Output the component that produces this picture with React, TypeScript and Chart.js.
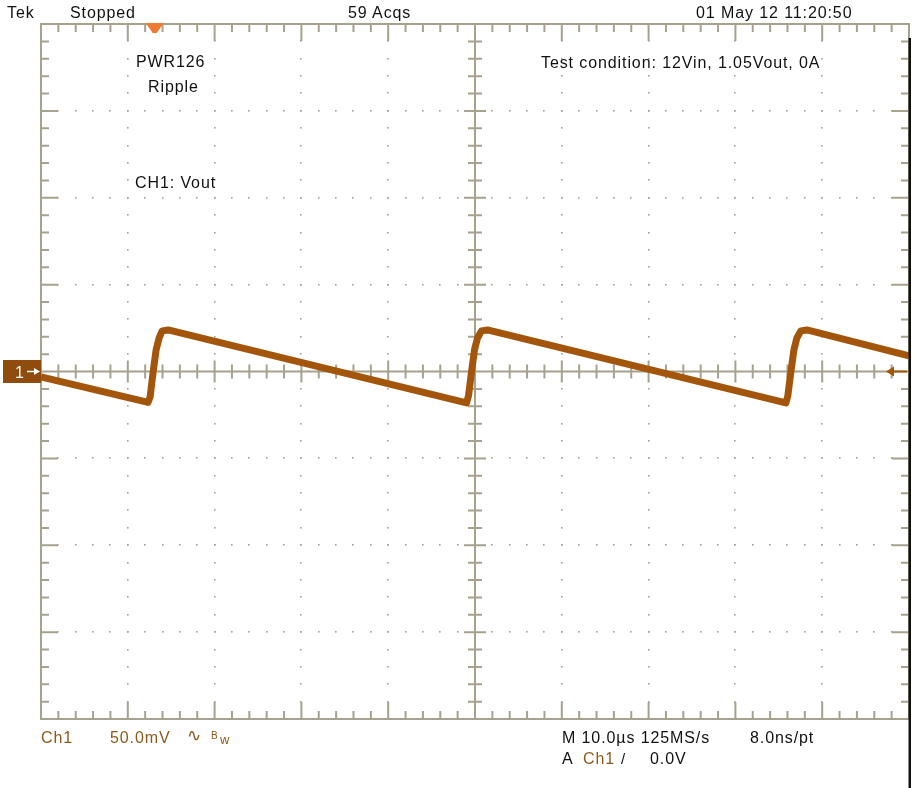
import React, { useEffect, useRef } from 'react';
import { Chart, registerables } from 'chart.js';

Chart.register(...registerables);

// ---- data (time in µs across the 10-division screen, Ch1 in mV) ----
const timeUs = [0, 12.34, 12.57, 12.92, 13.26, 13.61, 13.96, 14.65, 49.02, 49.25, 49.6, 49.94, 50.29, 50.75, 51.44, 85.81, 86.04, 86.39, 86.74, 87.08, 87.54, 88.24, 100];
const ch1mV = [-3.1, -17.8, -14.6, -0.2, 12.4, 19.3, 23.4, 23.9, -18.1, -14.0, -0.2, 12.4, 19.3, 23.4, 23.9, -18.1, -14.0, -0.2, 12.4, 19.3, 23.4, 23.9, 9.0];

const xRange = [0, 100];
const xDivision = 10; // µs per division
const yRange = [-200, 200];
const yDivision = 50; // mV per division
const minorPerDivision = 5;
const triggerTimeUs = 13.1;
const triggerLevelMv = 0;
const ch1OffsetMv = 0;

const headerTexts = ['Tek', 'Stopped', '59 Acqs', '01 May 12 11:20:50'];
const noteTexts = ['PWR126', 'Ripple', 'CH1: Vout', 'Test condition: 12Vin, 1.05Vout, 0A'];

const TRACE = '#a3550b';
const GRID = '#a6a28d';
const BROWN_TEXT = '#8c5a1c';

const graticule = {
  id: 'graticule',
  beforeDatasetsDraw(chart: any) {
    const { ctx, chartArea: a, scales } = chart;
    const xs = scales.x;
    const ys = scales.y;
    const xMinor = xDivision / minorPerDivision;
    const yMinor = yDivision / minorPerDivision;
    const nx = Math.round((xRange[1] - xRange[0]) / xMinor);
    const ny = Math.round((yRange[1] - yRange[0]) / yMinor);
    const xMid = (xRange[0] + xRange[1]) / 2;
    const yMid = (yRange[0] + yRange[1]) / 2;
    ctx.save();
    ctx.fillStyle = GRID;
    // dotted major lines
    for (let j = 1; j < ny; j++) {
      const v = yRange[0] + j * yMinor;
      if (j % minorPerDivision !== 0 || v === yMid) continue;
      const py = ys.getPixelForValue(v);
      for (let i = 1; i < nx; i++) {
        const px = xs.getPixelForValue(xRange[0] + i * xMinor);
        ctx.fillRect(Math.round(px) - 1, Math.round(py) - 1, 1.6, 1.6);
      }
    }
    for (let i = 1; i < nx; i++) {
      const t = xRange[0] + i * xMinor;
      if (i % minorPerDivision !== 0 || t === xMid) continue;
      const px = xs.getPixelForValue(t);
      for (let j = 1; j < ny; j++) {
        const py = ys.getPixelForValue(yRange[0] + j * yMinor);
        ctx.fillRect(Math.round(px) - 1, Math.round(py) - 1, 1.6, 1.6);
      }
    }
    ctx.strokeStyle = GRID;
    ctx.lineWidth = 2;
    ctx.strokeRect(a.left, a.top, a.right - a.left, a.bottom - a.top);
    const cx = xs.getPixelForValue(xMid);
    const cy = ys.getPixelForValue(yMid);
    ctx.beginPath();
    ctx.moveTo(cx, a.top); ctx.lineTo(cx, a.bottom);
    ctx.moveTo(a.left, cy); ctx.lineTo(a.right, cy);
    // ticks along x
    for (let i = 1; i < nx; i++) {
      const px = xs.getPixelForValue(xRange[0] + i * xMinor);
      const major = i % minorPerDivision === 0;
      const edge = major ? 17 : 8;
      const mid = major ? 11 : 7;
      ctx.moveTo(px, a.top); ctx.lineTo(px, a.top + edge);
      ctx.moveTo(px, a.bottom); ctx.lineTo(px, a.bottom - edge);
      ctx.moveTo(px, cy - mid); ctx.lineTo(px, cy + mid);
    }
    for (let j = 1; j < ny; j++) {
      const py = ys.getPixelForValue(yRange[0] + j * yMinor);
      const major = j % minorPerDivision === 0;
      const edge = major ? 17 : 8;
      const mid = major ? 11 : 7;
      ctx.moveTo(a.left, py); ctx.lineTo(a.left + edge, py);
      ctx.moveTo(a.right, py); ctx.lineTo(a.right - edge, py);
      ctx.moveTo(cx - mid, py); ctx.lineTo(cx + mid, py);
    }
    ctx.stroke();
    ctx.restore();
  },
  afterDraw(chart: any) {
    const { ctx, chartArea: a, scales } = chart;
    const xs = scales.x;
    const ys = scales.y;
    ctx.save();
    // trigger position marker
    const tx = xs.getPixelForValue(triggerTimeUs);
    ctx.fillStyle = '#f07a32';
    ctx.beginPath();
    ctx.moveTo(tx - 9, a.top - 1);
    ctx.lineTo(tx + 9, a.top - 1);
    ctx.lineTo(tx + 2, a.top + 9);
    ctx.lineTo(tx - 2, a.top + 9);
    ctx.closePath();
    ctx.fill();
    // channel 1 ground marker
    const gy = ys.getPixelForValue(ch1OffsetMv);
    ctx.fillStyle = '#8f4c0c';
    ctx.fillRect(3, gy - 11.5, a.left - 3, 23);
    ctx.strokeStyle = '#ffffff';
    ctx.fillStyle = '#ffffff';
    ctx.lineWidth = 1.5;
    ctx.beginPath();
    ctx.moveTo(27, gy); ctx.lineTo(38, gy);
    ctx.stroke();
    ctx.beginPath();
    ctx.moveTo(40, gy); ctx.lineTo(34, gy - 3.5); ctx.lineTo(34, gy + 3.5); ctx.closePath();
    ctx.fill();
    // trigger level marker
    const ly = ys.getPixelForValue(triggerLevelMv);
    ctx.strokeStyle = TRACE;
    ctx.fillStyle = TRACE;
    ctx.lineWidth = 2;
    ctx.beginPath();
    ctx.moveTo(a.right - 20, ly); ctx.lineTo(a.right - 2, ly);
    ctx.stroke();
    ctx.beginPath();
    ctx.moveTo(a.right - 23, ly); ctx.lineTo(a.right - 15, ly - 5); ctx.lineTo(a.right - 15, ly + 5); ctx.closePath();
    ctx.fill();
    // right edge black bar
    ctx.fillStyle = '#111111';
    ctx.fillRect(a.right - 0.5, a.top + 14, 2.5, chart.height - a.top - 14);
    ctx.restore();
  },
};

const textBase: React.CSSProperties = {
  position: 'absolute',
  fontFamily: '"Liberation Sans", Arial, sans-serif',
  fontSize: 16,
  lineHeight: '18px',
  letterSpacing: '0.9px',
  whiteSpace: 'nowrap',
  color: '#111111',
};

function T({ x, cy, children, color, size }: { x: number; cy: number; children: React.ReactNode; color?: string; size?: number }) {
  const s = size || 16;
  return (
    <div style={{ ...textBase, left: x, top: cy - s * 0.53, fontSize: s, color: color || '#111111' }}>{children}</div>
  );
}

export default function App() {
  const ref = useRef<HTMLCanvasElement | null>(null);
  useEffect(() => {
    if (!ref.current) return;
    const chart = new Chart(ref.current, {
      type: 'line',
      data: {
        datasets: [
          {
            label: 'CH1: Vout',
            data: timeUs.map((t, i) => ({ x: t, y: ch1mV[i] })),
            borderColor: TRACE,
            borderWidth: 7,
            pointRadius: 0,
            tension: 0,
            borderJoinStyle: 'round',
            borderCapStyle: 'butt',
          },
        ],
      },
      options: {
        animation: false,
        responsive: false,
        devicePixelRatio: 1,
        layout: { padding: { left: 41, right: 11, top: 24, bottom: 69 } },
        plugins: { legend: { display: false }, tooltip: { enabled: false } },
        scales: {
          x: { type: 'linear', min: xRange[0], max: xRange[1], display: false },
          y: { type: 'linear', min: yRange[0], max: yRange[1], display: false },
        },
      },
      plugins: [graticule],
    } as any);
    return () => chart.destroy();
  }, []);

  return (
    <div style={{ position: 'absolute', left: 0, top: 0, width: 920, height: 788, background: '#ffffff', overflow: 'hidden' }}>
      <canvas ref={ref} width={920} height={788} style={{ position: 'absolute', left: 0, top: 0 }} />
      <T x={7} cy={12}>{headerTexts[0]}</T>
      <T x={70} cy={12}>{headerTexts[1]}</T>
      <T x={348} cy={12}>{headerTexts[2]}</T>
      <T x={696} cy={12}>{headerTexts[3]}</T>
      <T x={136} cy={61}>{noteTexts[0]}</T>
      <T x={148} cy={86}>{noteTexts[1]}</T>
      <T x={135} cy={182}>{noteTexts[2]}</T>
      <T x={541} cy={62}>{noteTexts[3]}</T>
      <T x={15} cy={372} color="#ffffff">1</T>
      <T x={41} cy={737} color={BROWN_TEXT}>Ch1</T>
      <T x={110} cy={737} color={BROWN_TEXT}>50.0mV</T>
      <T x={187} cy={736} color={BROWN_TEXT} size={17}>∿</T>
      <T x={211} cy={732} color={BROWN_TEXT} size={10}>B</T>
      <T x={220} cy={738} color={BROWN_TEXT} size={13}>w</T>
      <T x={562} cy={737}>M 10.0µs 125MS/s</T>
      <T x={750} cy={737}>8.0ns/pt</T>
      <T x={562} cy={758}>A</T>
      <T x={583} cy={758} color={BROWN_TEXT}>Ch1</T>
      <T x={621} cy={758} size={15}>/</T>
      <T x={650} cy={758}>0.0V</T>
    </div>
  );
}
